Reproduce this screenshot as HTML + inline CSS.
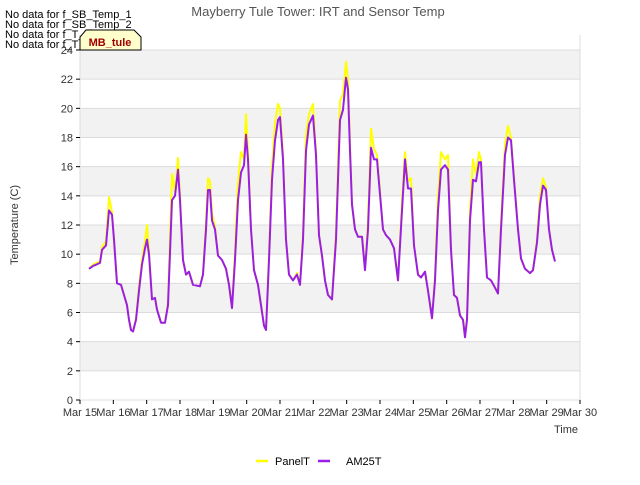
<!DOCTYPE html>
<html><head><meta charset="utf-8"><style>
body{margin:0;background:#fff;font-family:"Liberation Sans",sans-serif}
svg text{font-family:"Liberation Sans",sans-serif}
</style></head><body>
<svg id="chart" width="640" height="480">
<g id="bands"></g><g id="grid"></g><g id="ticks"></g><g id="series"></g>
<text x="318" y="16" text-anchor="middle" font-size="13" fill="#555">Mayberry Tule Tower: IRT and Sensor Temp</text>
<text x="18" y="225" text-anchor="middle" font-size="11" fill="#333" transform="rotate(-90 18 225)">Temperature (C)</text>
<text x="566" y="433" text-anchor="middle" font-size="11" fill="#333">Time</text>
<g font-size="11" fill="#000">
<text x="5" y="18">No data for f_SB_Temp_1</text>
<text x="5" y="28">No data for f_SB_Temp_2</text>
<text x="5" y="38">No data for f_T_Temp_1</text>
<text x="5" y="48">No data for f_T_Temp_2</text>
</g>
<g>
<path d="M80,50 L80,37 L86,30 L134,30 L141,37 L141,50 Z" fill="#ffffcc" stroke="#000"/>
<text x="110" y="46" text-anchor="middle" font-size="11" font-weight="bold" fill="#a00000">MB_tule</text>
</g>
<g>
<line x1="256" y1="461" x2="268" y2="461" stroke="#ffff00" stroke-width="2.5"/>
<text x="275" y="465" font-size="11">PanelT</text>
<line x1="318" y1="461" x2="330" y2="461" stroke="#9b1ee6" stroke-width="2.5"/>
<text x="346" y="465" font-size="11">AM25T</text>
</g>
</svg>
<script>
const days=[0.27,0.4,0.5,0.6,0.66,0.78,0.87,0.96,1.02,1.11,1.23,1.32,1.41,1.47,1.53,1.59,1.68,1.77,1.86,1.95,2.01,2.07,2.16,2.25,2.31,2.43,2.55,2.64,2.76,2.85,2.94,3.0,3.09,3.18,3.27,3.39,3.6,3.69,3.78,3.84,3.9,3.96,4.05,4.14,4.26,4.38,4.47,4.56,4.65,4.74,4.83,4.92,4.98,5.04,5.13,5.22,5.34,5.43,5.52,5.58,5.67,5.76,5.85,5.94,6.0,6.09,6.18,6.27,6.39,6.51,6.6,6.69,6.78,6.87,6.99,7.08,7.17,7.26,7.35,7.44,7.56,7.68,7.8,7.89,7.98,8.04,8.1,8.16,8.25,8.34,8.46,8.55,8.64,8.73,8.82,8.91,9.0,9.09,9.18,9.3,9.42,9.54,9.66,9.75,9.84,9.93,10.02,10.14,10.23,10.35,10.44,10.56,10.65,10.74,10.83,10.95,11.04,11.13,11.22,11.31,11.4,11.49,11.55,11.61,11.7,11.79,11.88,11.97,12.03,12.12,12.21,12.33,12.45,12.54,12.63,12.75,12.84,12.93,13.02,13.14,13.23,13.35,13.5,13.59,13.71,13.8,13.89,13.98,14.07,14.16,14.25];
const am25t=[9.0,9.2,9.3,9.4,10.3,10.6,13.0,12.7,11.0,8.0,7.9,7.2,6.5,5.5,4.8,4.7,5.5,7.5,9.3,10.4,11.0,10.0,6.9,7.0,6.2,5.3,5.3,6.5,13.7,14.0,15.8,13.7,9.6,8.6,8.8,7.9,7.8,8.6,11.7,14.4,14.4,12.3,11.7,9.9,9.6,9.0,7.9,6.3,9.6,13.7,15.6,16.1,18.2,16.5,11.7,8.9,7.9,6.5,5.1,4.8,9.6,15.1,17.8,19.2,19.4,16.5,11.0,8.6,8.2,8.6,7.9,11.0,17.1,18.9,19.5,16.8,11.3,9.9,8.2,7.2,6.9,11.0,19.2,19.9,22.1,21.3,17.1,13.4,11.7,11.2,11.2,8.9,11.7,17.3,16.5,16.5,14.1,11.7,11.3,11.0,10.4,8.2,13.0,16.5,14.5,14.5,10.6,8.6,8.4,8.8,7.5,5.6,8.2,13.0,15.8,16.1,15.8,10.3,7.2,7.0,5.8,5.5,4.3,5.5,12.3,15.1,15.0,16.3,16.3,11.7,8.4,8.2,7.7,7.3,11.7,16.8,18.0,17.8,15.1,11.7,9.7,9.0,8.7,8.9,10.8,13.4,14.7,14.4,11.7,10.3,9.5];
const panelt=[9.0,9.3,9.4,9.5,10.5,10.9,13.9,12.9,11.0,8.0,7.9,7.2,6.5,5.5,4.8,4.7,5.6,7.8,9.6,10.9,12.0,10.2,6.9,7.0,6.2,5.3,5.3,6.7,15.5,14.3,16.6,14.0,9.6,8.6,8.8,7.9,7.8,8.7,12.2,15.2,15.0,12.8,11.9,9.9,9.6,9.0,7.9,6.3,10.2,15.0,17.0,16.5,19.6,17.0,11.7,8.9,7.9,6.5,5.1,4.8,10.0,16.0,19.0,20.3,20.0,16.8,11.0,8.6,8.2,8.7,7.9,11.5,18.2,19.6,20.3,17.0,11.3,9.9,8.2,7.2,6.9,11.5,20.5,21.0,23.2,22.0,17.5,13.4,11.7,11.2,11.2,8.9,12.3,18.6,17.2,16.8,14.3,11.7,11.3,11.0,10.4,8.2,13.6,17.0,15.0,15.2,10.6,8.6,8.4,8.8,7.5,5.6,8.5,14.0,17.0,16.5,16.8,10.3,7.2,7.0,5.8,5.5,4.3,5.7,13.0,16.5,15.5,17.0,16.5,11.7,8.4,8.2,7.7,7.3,12.2,17.5,18.8,18.0,15.3,11.7,9.7,9.0,8.7,8.9,11.0,14.0,15.2,14.6,11.7,10.3,9.5];
const xTickLabels=["Mar 15","Mar 16","Mar 17","Mar 18","Mar 19","Mar 20","Mar 21","Mar 22","Mar 23","Mar 24","Mar 25","Mar 26","Mar 27","Mar 28","Mar 29","Mar 30"];
const yTicks=[0,2,4,6,8,10,12,14,16,18,20,22,24];
const NS="http://www.w3.org/2000/svg";
const X0=80,X1=580,Y0=400,YTOP=35;
const xs=d=>X0+d*(X1-X0)/15;
const ys=v=>Y0-v*(Y0-50)/24;
function mk(tag,attrs,parent){const e=document.createElementNS(NS,tag);for(const k in attrs)e.setAttribute(k,attrs[k]);parent.appendChild(e);return e;}
const bands=document.getElementById('bands'),grid=document.getElementById('grid'),ticks=document.getElementById('ticks'),series=document.getElementById('series');
mk('rect',{x:X0,y:YTOP,width:X1-X0,height:Y0-YTOP,fill:'#fff'},bands);
for(let v=2;v<24;v+=4){const r=mk('rect',{x:X0,y:ys(v+2),width:X1-X0,height:ys(v)-ys(v+2),fill:'#f2f2f2'},bands);

}
yTicks.forEach(v=>{const l=mk('line',{x1:X0,x2:X1,y1:ys(v),y2:ys(v),stroke:'#dcdcdc'},grid);


mk('line',{x1:X0-4,x2:X0,y1:ys(v),y2:ys(v),stroke:'#000'},ticks);
const t=mk('text',{x:X0-7,y:ys(v)+4,'text-anchor':'end','font-size':11,fill:'#333'},ticks);t.textContent=v;

});
mk('line',{x1:X1,x2:X1,y1:YTOP,y2:Y0,stroke:'#dcdcdc'},grid);
mk('line',{x1:X0,x2:X0,y1:YTOP,y2:Y0,stroke:'#dcdcdc'},grid);
xTickLabels.forEach((lab,i)=>{mk('line',{x1:xs(i),x2:xs(i),y1:Y0,y2:Y0+4,stroke:'#000'},ticks);
const t=mk('text',{x:xs(i),y:Y0+16,'text-anchor':'middle','font-size':11,fill:'#333'},ticks);t.textContent=lab;

});
function line(vals,color,name){const p=mk('polyline',{points:days.map((d,i)=>xs(d).toFixed(1)+','+ys(vals[i]).toFixed(1)).join(' '),fill:'none',stroke:color,'stroke-width':2,'stroke-linejoin':'round'},series);

}
line(panelt,'#ffff00','panelt-line');
line(am25t,'#9b1ee6','am25t-line');
</script>
</body></html>
